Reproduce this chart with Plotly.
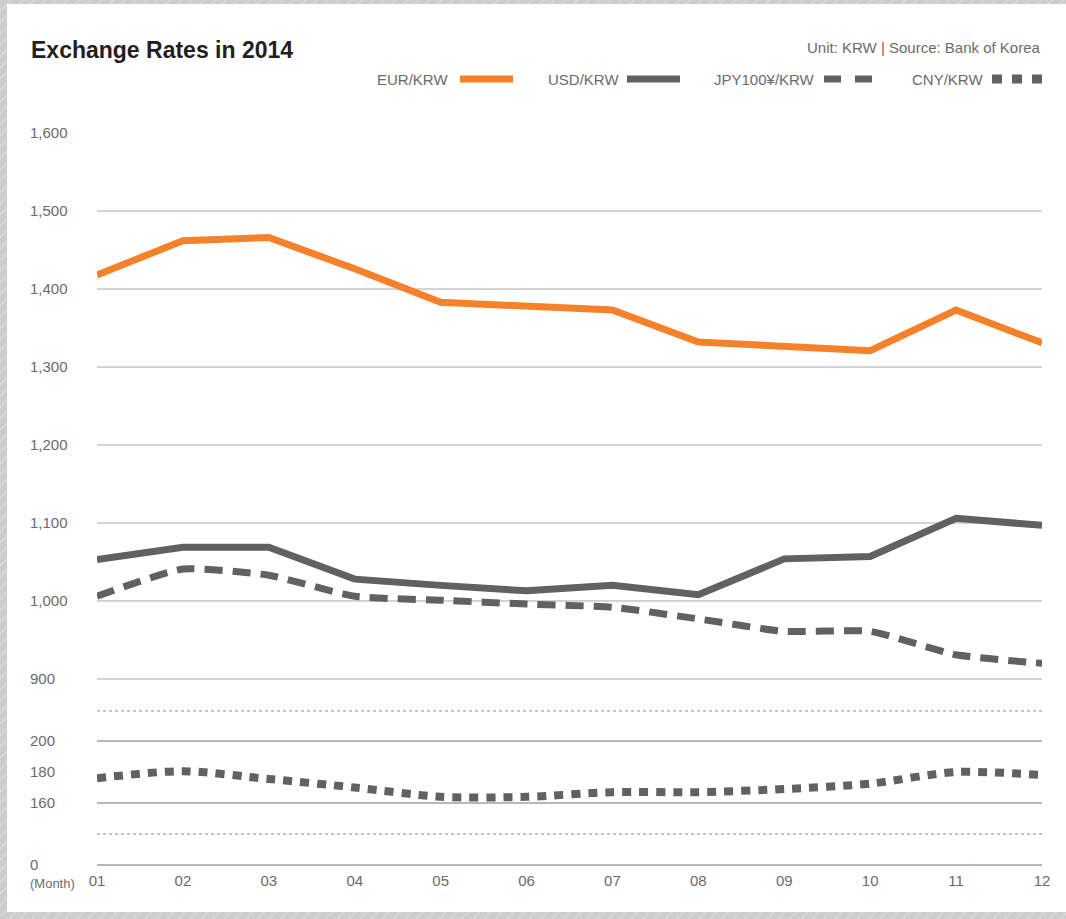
import plotly.graph_objects as go

W, H = 1066, 919

months = list(range(1, 13))
month_labels = ["01", "02", "03", "04", "05", "06", "07", "08", "09", "10", "11", "12"]
eur = [1418, 1462, 1466, 1426, 1383, 1378, 1373, 1332, 1327, 1321, 1373, 1331]
usd = [1053, 1069, 1069, 1028, 1020, 1013, 1020, 1008, 1054, 1057, 1106, 1097]
jpy = [1006, 1041, 1033, 1006, 1001, 996, 992, 977, 961, 961, 931, 920]
cny = [176, 180.5, 175.5, 170, 164, 164, 167, 167, 169, 172.5, 180, 178]

upper_ticks = [900, 1000, 1100, 1200, 1300, 1400, 1500, 1600]
upper_grid = [900, 1000, 1100, 1200, 1300, 1400, 1500]
lower_ticks = [120, 160, 180, 200]
lower_ticktext = ["0", "160", "180", "200"]
lower_grid = [120, 160, 200]
break_lines = [140, 219.4]

ORANGE = "#f5822a"
DARK = "#616161"
TXT = "#6b6b6b"
FONT = "Liberation Sans"

UP_PX = 0.778   # px per unit, upper panel
LO_PX = 1.55    # px per unit, lower panel


def px(x):
    return x / W


def py(y):
    return 1 - y / H


up_top_px, up_bot_px = 105.0, 694.6
up_range = [900 - (up_bot_px - 679) / UP_PX, 1600 + (133 - up_top_px) / UP_PX]
lo_top_px, lo_bot_px = 702.25, 885.0
lo_range = [200 - (lo_bot_px - 741) / LO_PX, 200 + (741 - lo_top_px) / LO_PX]

fig = go.Figure()

# hatched frame (decor)
strips = [
    ([0, W, W, 0, 0], [0, 0, 4, 4, 0]),
    ([0, 7, 7, 0, 0], [0, 0, H, H, 0]),
    ([0, W, W, 0, 0], [912, 912, H, H, 912]),
]
for xs, ys in strips:
    fig.add_trace(go.Scatter(
        x=xs, y=ys, xaxis="x3", yaxis="y3", mode="lines", fill="toself",
        line=dict(width=0, color="rgba(0,0,0,0)"),
        fillcolor="#d0d0d0",
        fillpattern=dict(shape="/", bgcolor="#cdcdcd", fgcolor="#eeeeee", size=8, solidity=0.15),
        hoverinfo="skip", showlegend=False))

fig.add_trace(go.Scatter(x=months, y=eur, xaxis="x2", yaxis="y", mode="lines",
                         line=dict(color=ORANGE, width=7), name="EUR/KRW", showlegend=False))
fig.add_trace(go.Scatter(x=months, y=usd, xaxis="x2", yaxis="y", mode="lines",
                         line=dict(color=DARK, width=7), name="USD/KRW", showlegend=False))
fig.add_trace(go.Scatter(x=months, y=jpy, xaxis="x2", yaxis="y", mode="lines",
                         line=dict(color=DARK, width=7, dash="18px,10px", shape="spline", smoothing=0.5),
                         name="JPY100¥/KRW", showlegend=False))
fig.add_trace(go.Scatter(x=months, y=cny, xaxis="x", yaxis="y2", mode="lines",
                         line=dict(color=DARK, width=8, dash="9px,8px", shape="spline", smoothing=0.8),
                         name="CNY/KRW", showlegend=False))

shapes = []
for v in upper_grid:
    shapes.append(dict(type="line", xref="x2 domain", x0=0, x1=1, yref="y", y0=v, y1=v,
                       line=dict(color="#a9a9a9", width=1), layer="below"))
for v in lower_grid:
    shapes.append(dict(type="line", xref="x domain", x0=0, x1=1, yref="y2", y0=v, y1=v,
                       line=dict(color="#a0a0a0", width=1.3), layer="below"))
for v in break_lines:
    shapes.append(dict(type="line", xref="x domain", x0=0, x1=1, yref="y2", y0=v, y1=v,
                       line=dict(color="#8a8a8a", width=1, dash="dot"), layer="below"))

legend_items = [
    ("EUR/KRW", 450, 460, 513, ORANGE, "solid", 7),
    ("USD/KRW", 621, 627, 680, DARK, "solid", 7),
    ("JPY100¥/KRW", 817, 824, 873, DARK, "17px,14px", 7),
    ("CNY/KRW", 985, 992, 1042, DARK, "10px,10px", 9),
]
annotations = []
for name, tx, x0, x1, col, dash, wdt in legend_items:
    annotations.append(dict(text=name, xref="paper", yref="paper", x=px(tx), y=py(79),
                            xanchor="right", yanchor="middle", showarrow=False,
                            font=dict(family=FONT, size=15, color=TXT)))
    shapes.append(dict(type="line", xref="paper", yref="paper", x0=px(x0), x1=px(x1),
                       y0=py(79), y1=py(79), line=dict(color=col, width=wdt, dash=dash)))

annotations.append(dict(text="<b>Exchange Rates in 2014</b>", xref="paper", yref="paper",
                        x=px(29), y=py(50), xanchor="left", yanchor="middle", showarrow=False,
                        font=dict(family=FONT, size=23, color="#231f20")))
annotations.append(dict(text="Unit: KRW | Source: Bank of Korea", xref="paper", yref="paper",
                        x=px(1043), y=py(47), xanchor="right", yanchor="middle", showarrow=False,
                        font=dict(family=FONT, size=15, color=TXT)))
annotations.append(dict(text="(Month)", xref="paper", yref="paper",
                        x=px(28), y=py(883), xanchor="left", yanchor="middle", showarrow=False,
                        font=dict(family=FONT, size=13, color=TXT)))

axis_common = dict(showgrid=False, zeroline=False, showline=False, ticks="", automargin=False)

fig.update_layout(
    width=W, height=H,
    margin=dict(l=0, r=0, t=0, b=0, pad=0, autoexpand=False),
    paper_bgcolor="white", plot_bgcolor="rgba(0,0,0,0)",
    showlegend=False,
    font=dict(family=FONT, color=TXT),
    xaxis=dict(domain=[px(97), px(1042)], range=[1, 12], anchor="free", position=py(866),
               tickmode="array", tickvals=months, ticktext=month_labels,
               tickfont=dict(size=15, color=TXT), ticklabelstandoff=4, **axis_common),
    xaxis2=dict(domain=[px(97), px(1042)], range=[1, 12], anchor="y", matches="x",
                showticklabels=False, **axis_common),
    yaxis=dict(domain=[py(up_bot_px), py(up_top_px)], range=up_range, anchor="free", position=px(26),
               tickmode="array", tickvals=upper_ticks, tickformat=",",
               ticklabelposition="inside", tickfont=dict(size=15, color=TXT), **axis_common),
    yaxis2=dict(domain=[py(lo_bot_px), py(lo_top_px)], range=lo_range, anchor="free", position=px(26),
                tickmode="array", tickvals=lower_ticks, ticktext=lower_ticktext,
                ticklabelposition="inside", tickfont=dict(size=15, color=TXT), **axis_common),
    xaxis3=dict(domain=[0, 1], range=[0, W], visible=False, anchor="y3", fixedrange=True),
    yaxis3=dict(domain=[0, 1], range=[H, 0], visible=False, anchor="x3", fixedrange=True),
    shapes=shapes,
    annotations=annotations,
)

fig.write_html("out.html", config={"displayModeBar": False},
               post_script="document.body.style.margin='0';document.body.style.overflow='hidden';")
